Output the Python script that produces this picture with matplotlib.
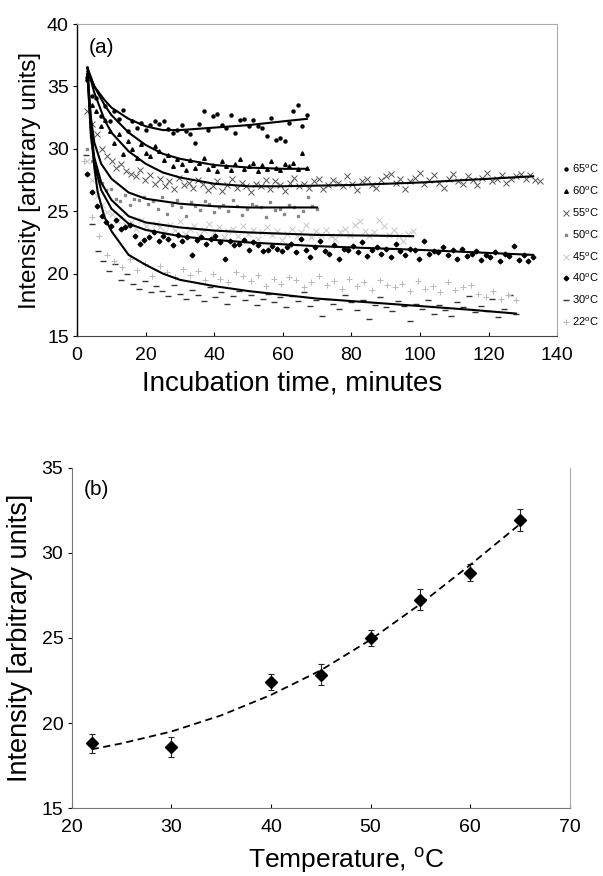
import numpy as np
from matplotlib import pyplot as plt

plt.rcParams['font.family'] = ['Liberation Sans', 'DejaVu Sans']
plt.rcParams['mathtext.fontset'] = 'custom'
plt.rcParams['mathtext.rm'] = 'Liberation Sans'

# panel (a): measured intensities, sampled evenly between t_start and t_end
temps_a = ['65', '60', '55', '50', '45', '40', '30', '22']
t_start = [3, 3, 3, 3, 3, 3, 2.5, 2]
t_end = [67, 67, 135, 70, 98, 133, 128, 128]

i65 = [35.5, 34.2, 34.1, 32.6, 33.4, 32.2, 33.0, 32.4, 33.1, 31.4, 32.2, 31.7, 32.1, 31.5, 31.9,
       32.2, 32.0, 32.2, 31.6, 31.3, 31.5, 31.9, 31.4, 31.2, 30.5, 32.0, 33.0, 31.5, 32.6, 32.8,
       31.9, 31.7, 32.7, 31.3, 32.3, 32.4, 31.8, 32.3, 31.8, 31.7, 31.0, 32.5, 30.7, 30.9, 30.6,
       32.1, 33.0, 33.5, 31.8, 32.7]
i60 = [35.8, 33.5, 33.0, 31.8, 32.3, 31.4, 30.5, 31.2, 29.6, 30.6, 30.0, 29.3, 30.4, 29.7, 29.4,
       30.2, 29.8, 29.1, 29.5, 28.6, 29.2, 28.8, 28.3, 29.1, 28.5, 28.9, 29.3, 28.4, 28.7, 28.2,
       29.0, 28.6, 28.3, 28.8, 29.2, 28.4, 28.6, 28.9, 28.2, 28.7, 28.4, 29.0, 28.5, 28.3, 28.8,
       28.6, 28.9, 28.4, 29.7, 28.5]
i55 = [33.0, 32.0, 31.2, 30.0, 29.4, 29.0, 28.5, 28.8, 28.2, 28.0, 27.8, 28.3, 27.5, 27.9, 27.2,
       27.6, 27.0, 27.4, 26.8, 27.7, 27.1, 27.3, 26.9, 27.5, 27.2, 26.7, 27.0, 27.4, 26.6, 27.1,
       27.6, 26.9, 27.3, 27.0, 26.5, 27.2, 27.0, 27.5, 26.8, 27.4, 27.1, 26.6, 27.3, 27.7, 27.0,
       27.2, 26.9, 27.4, 27.6, 26.8, 27.1, 27.5, 27.3, 27.0, 27.8, 27.2, 26.7, 27.4, 27.6, 27.1,
       26.9, 27.5, 27.8, 28.0, 27.3, 27.6, 26.8, 27.4, 27.7, 28.1, 27.2, 27.5, 27.9, 27.3, 26.9,
       27.6, 28.0, 27.4, 27.2, 27.8, 27.5, 27.1, 27.7, 28.1, 27.4, 27.6, 27.9, 27.3, 27.6, 27.8,
       28.0, 27.6, 27.9, 27.5, 27.4]
i50 = [30.0, 29.0, 28.0, 27.3, 26.7, 26.8, 26.0, 25.8, 26.3, 25.5, 26.0, 25.9, 26.1, 25.6, 25.8,
       25.2, 26.1, 24.8, 25.5, 25.9, 25.3, 24.6, 25.7, 25.4, 25.1, 25.8, 25.6, 24.9, 25.3, 25.5,
       25.0, 25.9, 25.4, 24.7, 25.2, 25.6, 25.4, 25.3, 24.5, 25.7, 25.1, 25.2, 24.8, 25.5, 25.3,
       24.6, 25.0, 26.1, 25.4, 25.2]
i45 = [29.0, 27.5, 26.2, 25.5, 24.9, 24.8, 24.2, 24.5, 23.9, 24.1, 23.6, 24.3, 23.8, 23.4, 24.0,
       23.7, 23.3, 23.9, 23.5, 24.2, 23.2, 23.6, 23.8, 23.1, 23.5, 24.0, 23.3, 23.7, 22.9, 23.4,
       23.6, 23.0, 23.8, 23.2, 23.5, 22.8, 23.3, 23.7, 23.1, 23.4, 22.7, 23.2, 23.6, 23.0, 23.3,
       23.9, 22.9, 23.4, 23.1, 23.5, 23.0, 22.8, 23.3, 23.6, 23.1, 23.9, 24.2, 23.4, 23.0, 23.3,
       24.3, 23.8, 23.1, 23.5, 23.0, 22.6, 23.2, 23.4]
i40 = [28.0, 26.5, 25.4, 24.6, 24.1, 23.8, 24.3, 23.6, 23.7, 23.9, 23.0, 22.4, 22.7, 22.9, 23.3,
       22.6, 23.0, 22.8, 22.3, 23.1, 22.6, 22.9, 21.5, 22.7, 22.9, 22.4, 22.8, 23.0, 22.5, 21.2,
       22.6, 22.3, 22.4, 22.7, 21.9, 22.5, 22.3, 21.8, 21.9, 22.2, 22.0, 21.8, 22.1, 22.4, 21.7,
       22.8, 21.9, 21.3, 22.1, 22.6, 21.8, 21.6, 22.3, 21.2, 22.0, 21.9, 22.2, 21.7, 22.5, 21.4,
       21.9, 22.1, 21.6, 22.0, 21.3, 22.4, 21.8, 21.5, 22.0, 21.9, 21.2, 22.6, 21.6, 21.8, 21.7,
       22.1, 21.5, 21.9, 21.2, 22.0, 21.4, 21.6, 21.8, 21.1, 21.5, 21.3, 21.7, 21.0, 21.6, 21.4,
       22.2, 21.1, 21.5, 21.0, 21.3]
i30 = [29.5, 24.0, 21.8, 21.0, 20.2, 20.8, 19.5, 20.0, 19.2, 18.8, 19.4, 18.5, 19.0, 18.6, 18.2,
       19.1, 18.4, 18.0, 18.7, 18.3, 17.8, 18.9, 18.1, 18.5, 17.6, 18.2, 18.6, 17.9, 18.3, 17.5,
       18.0, 18.4, 17.7, 18.1, 17.3, 18.2, 17.8, 18.5, 17.4, 17.9, 16.6, 18.0, 17.6, 17.2, 18.3,
       17.7, 17.1, 17.9, 16.4, 17.5, 18.1, 17.3, 17.0, 17.8, 17.4, 16.2, 17.6, 17.2, 17.9, 16.8,
       17.5, 17.1, 16.6, 17.7, 17.3, 18.2, 16.9, 17.4, 17.0, 18.0, 16.5, 17.2, 18.3, 16.8]
i22 = [29.0, 24.5, 23.0, 21.5, 21.0, 20.5, 21.2, 20.3, 20.8, 19.8, 20.6, 20.1, 19.7, 20.4, 19.9,
       20.2, 19.5, 20.0, 19.6, 19.3, 20.1, 19.8, 19.4, 19.9, 19.0, 19.6, 19.2, 19.7, 19.5, 18.9,
       19.3, 19.8, 19.1, 19.4, 18.8, 19.6, 19.0, 19.3, 18.7, 19.5, 19.1, 18.9, 19.2, 18.6, 19.4,
       18.8, 19.0, 18.5, 19.3, 18.7, 18.9, 19.1, 18.4, 18.1, 18.6, 18.0, 18.3, 17.9]
series_a = [i65, i60, i55, i50, i45, i40, i30, i22]

# fitted curves of panel (a)
fit_t = [
    [3, 5, 8, 10, 15, 20, 25, 30, 40, 50, 60, 67],
    [3, 5, 8, 10, 15, 20, 25, 30, 40, 50, 60, 67],
    [3, 5, 8, 10, 15, 20, 25, 30, 40, 50, 60, 80, 100, 120, 133],
    [3, 4, 5, 7, 10, 15, 20, 30, 40, 50, 60, 70],
    [3, 4, 5, 7, 10, 15, 20, 30, 40, 50, 70, 98],
    [3, 4, 5, 7, 10, 15, 20, 30, 40, 50, 70, 100, 133],
    [3, 4, 5, 6, 8, 10, 15, 20, 25, 30, 40, 50, 60, 70, 80, 100, 115, 128],
]
fit_i = [
    [36.2, 35.0, 33.9, 33.3, 32.4, 31.8, 31.5, 31.5, 31.7, 31.9, 32.2, 32.4],
    [36.5, 35.0, 33.5, 32.7, 31.3, 30.3, 29.6, 29.2, 28.7, 28.5, 28.4, 28.4],
    [36.5, 34.5, 32.3, 31.3, 29.8, 28.8, 28.1, 27.7, 27.2, 27.0, 27.0, 27.1, 27.3, 27.6, 27.8],
    [36.0, 32.5, 30.5, 28.8, 27.6, 26.5, 26.0, 25.6, 25.4, 25.3, 25.3, 25.3],
    [36.0, 31.5, 29.3, 27.3, 25.9, 24.6, 24.1, 23.7, 23.45, 23.3, 23.1, 23.0],
    [36.0, 31.0, 28.8, 26.7, 25.2, 24.0, 23.5, 23.0, 22.7, 22.5, 22.2, 21.9, 21.5],
    [36.5, 32.0, 28.5, 26.5, 24.5, 23.4, 21.5, 20.7, 20.0, 19.5, 19.0, 18.6, 18.3, 18.0, 17.8,
     17.4, 17.1, 16.8],
]

# panel (b)
temp_b = [22, 30, 40, 45, 50, 55, 60, 65]
int_b = [18.8, 18.6, 22.4, 22.85, 25.0, 27.25, 28.85, 31.95]
err_b = [0.55, 0.6, 0.47, 0.63, 0.47, 0.63, 0.5, 0.63]
fit_tb = [22, 25, 30, 35, 40, 45, 50, 55, 60, 65]
fit_ib = [18.45, 18.8, 19.5, 20.45, 21.65, 23.1, 24.9, 27.0, 29.3, 31.7]

styles = [
    dict(marker='o', ms=2.2, color='black'),
    dict(marker='^', ms=2.6, color='black'),
    dict(marker='x', ms=4.5, mew=0.7, color='#555555'),
    dict(marker='s', ms=2.0, color='#888888'),
    dict(marker='x', ms=4.5, mew=0.7, color='#c8c8c8'),
    dict(marker='D', ms=2.4, color='black'),
    dict(marker='_', ms=4.0, mew=1.0, color='#333333'),
    dict(marker='+', ms=4.5, mew=0.7, color='#b8b8b8'),
]

fig = plt.figure(figsize=(6.03, 8.76), dpi=100)
ax1 = fig.add_axes([0.128, 0.6164, 0.796, 0.3562])
ax2 = fig.add_axes([0.119, 0.0776, 0.826, 0.3882])

for k in range(len(temps_a)):
    t = np.linspace(t_start[k], t_end[k], len(series_a[k]))
    ax1.plot(t, series_a[k], ls='none', label=temps_a[k] + r'$^{\rm o}$C', **styles[k])
for k in range(len(fit_t)):
    ax1.plot(fit_t[k], fit_i[k], color='black', lw=1.5)

ax1.set_xlim(0, 140)
ax1.set_ylim(15, 40)
ax1.set_xticks(range(0, 141, 20))
ax1.set_yticks(range(15, 41, 5))
ax1.set_xlabel('Incubation time, minutes', fontsize=20)
ax1.xaxis.set_label_coords(0.448, -0.112)
ax1.set_ylabel('Intensity [arbitrary units]', fontsize=17.5, labelpad=4)
ax1.text(0.025, 0.955, '(a)', transform=ax1.transAxes, fontsize=15, va='top')
ax1.legend(loc='upper left', bbox_to_anchor=(1.0, 0.575), frameon=False, fontsize=8,
           handlelength=0.5, handletextpad=0.25, labelspacing=0.85, borderaxespad=0.15)

ax2.errorbar(temp_b, int_b, yerr=err_b, fmt='D', color='black', ms=6, ecolor='#222222',
             elinewidth=0.8, capsize=2.5, capthick=0.8)
ax2.plot(fit_tb, fit_ib, color='black', lw=1.3, ls=(0, (4, 2.5)))
ax2.set_xlim(20, 70)
ax2.set_ylim(15, 35)
ax2.set_xticks(range(20, 71, 10))
ax2.set_yticks(range(15, 36, 5))
ax2.set_xlabel(r'Temperature, $^{\rm o}$C', fontsize=19)
ax2.xaxis.set_label_coords(0.552, -0.11)
ax2.set_ylabel('Intensity [arbitrary units]', fontsize=19.5, labelpad=6)
ax2.text(0.025, 0.965, '(b)', transform=ax2.transAxes, fontsize=15, va='top')

for ax in (ax1, ax2):
    ax.tick_params(axis='x', direction='in', length=3, labelsize=14, pad=8)
    ax.tick_params(axis='y', direction='out', length=3, labelsize=14, pad=3)
    for s in ('top', 'right'):
        ax.spines[s].set_color('#aaaaaa')
        ax.spines[s].set_linestyle((0, (1, 1)))
        ax.spines[s].set_linewidth(0.8)
ax1.spines['left'].set_linewidth(1.0)
ax1.spines['bottom'].set_color('#444444')
ax2.spines['left'].set_color('#777777')
ax2.spines['bottom'].set_color('#777777')
ax2.spines['top'].set_visible(False)

fig.savefig('out.png', dpi=100)
